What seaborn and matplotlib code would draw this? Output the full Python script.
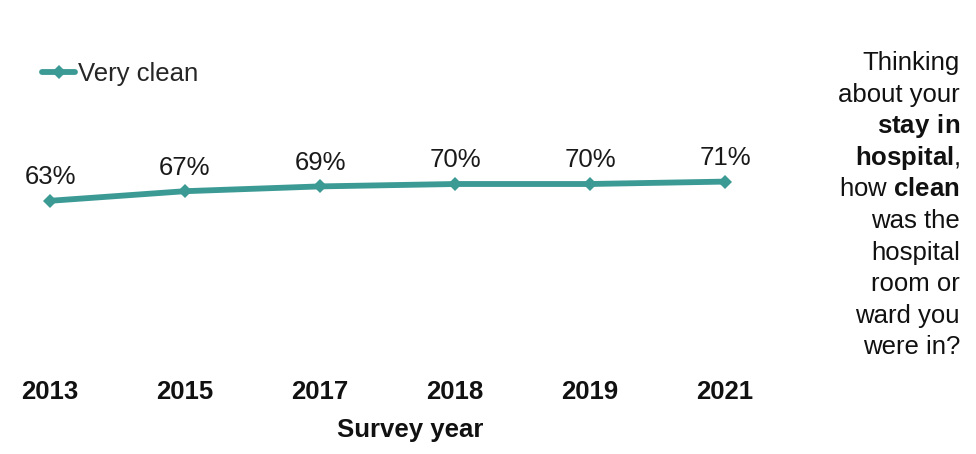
import pandas as pd
import seaborn as sns
import matplotlib.pyplot as plt

# Data
years = ['2013', '2015', '2017', '2018', '2019', '2021']
very_clean = [63, 67, 69, 70, 70, 71]
series_name = 'Very clean'

question_lines = [
    'Thinking',
    'about your',
    r'$\mathbf{stay\ in}$',
    r'$\mathbf{hospital}$,',
    r'how $\mathbf{clean}$',
    'was the',
    'hospital',
    'room or',
    'ward you',
    'were in?',
]

df = pd.DataFrame({'Survey year': years, 'Percent': very_clean})
df['Series'] = series_name

sns.set_theme(style='white')
plt.rcParams['font.family'] = ['Liberation Sans', 'DejaVu Sans']
plt.rcParams['mathtext.fontset'] = 'custom'
plt.rcParams['mathtext.rm'] = 'Liberation Sans'
plt.rcParams['mathtext.bf'] = 'Liberation Sans:bold'

W, H = 976, 454
fs = 18.5
teal = '#3c9a95'

fig = plt.figure(figsize=(W / 100, H / 100), dpi=100)
ax = fig.add_axes([20 / W, 1 - 352 / H, 780 / W, 240 / H])

sns.lineplot(data=df, x='Survey year', y='Percent', hue='Series', palette=[teal],
             marker='D', markersize=7.5, markeredgewidth=0, linewidth=4.2,
             sort=False, ax=ax, legend=True)

ax.set_xlim((20 - 50) / 135, (800 - 50) / 135)
ax.set_ylim(0, 100)

# Data labels
for i, v in enumerate(very_clean):
    ax.annotate(f'{v}%', xy=(i, v), xytext=(0, 17), textcoords='offset points',
                ha='center', va='center', fontsize=fs, color='#1a1a1a')

sns.despine(ax=ax, left=True, bottom=True)
ax.set_yticks([])
ax.set_ylabel('')
ax.tick_params(axis='x', length=0, pad=20, labelsize=fs)
for lbl in ax.get_xticklabels():
    lbl.set_fontweight('bold')
    lbl.set_color('#111111')
ax.set_xlabel('Survey year', fontsize=fs, fontweight='bold', color='#111111', labelpad=10)

# Legend
handles, labels = ax.get_legend_handles_labels()
ax.legend(handles, labels, loc='center left', bbox_to_anchor=(42 / W, 1 - 74 / H),
          bbox_transform=fig.transFigure, frameon=False, fontsize=fs,
          handlelength=1.3, handletextpad=0.1, borderpad=0, borderaxespad=0,
          numpoints=1)

# Question text on the right
for k, line in enumerate(question_lines):
    y = 63 + k * 31.6
    fig.text(960 / W, 1 - y / H, line, ha='right', va='center',
             fontsize=fs, color='#111111')

fig.savefig('out.png', dpi=100)
